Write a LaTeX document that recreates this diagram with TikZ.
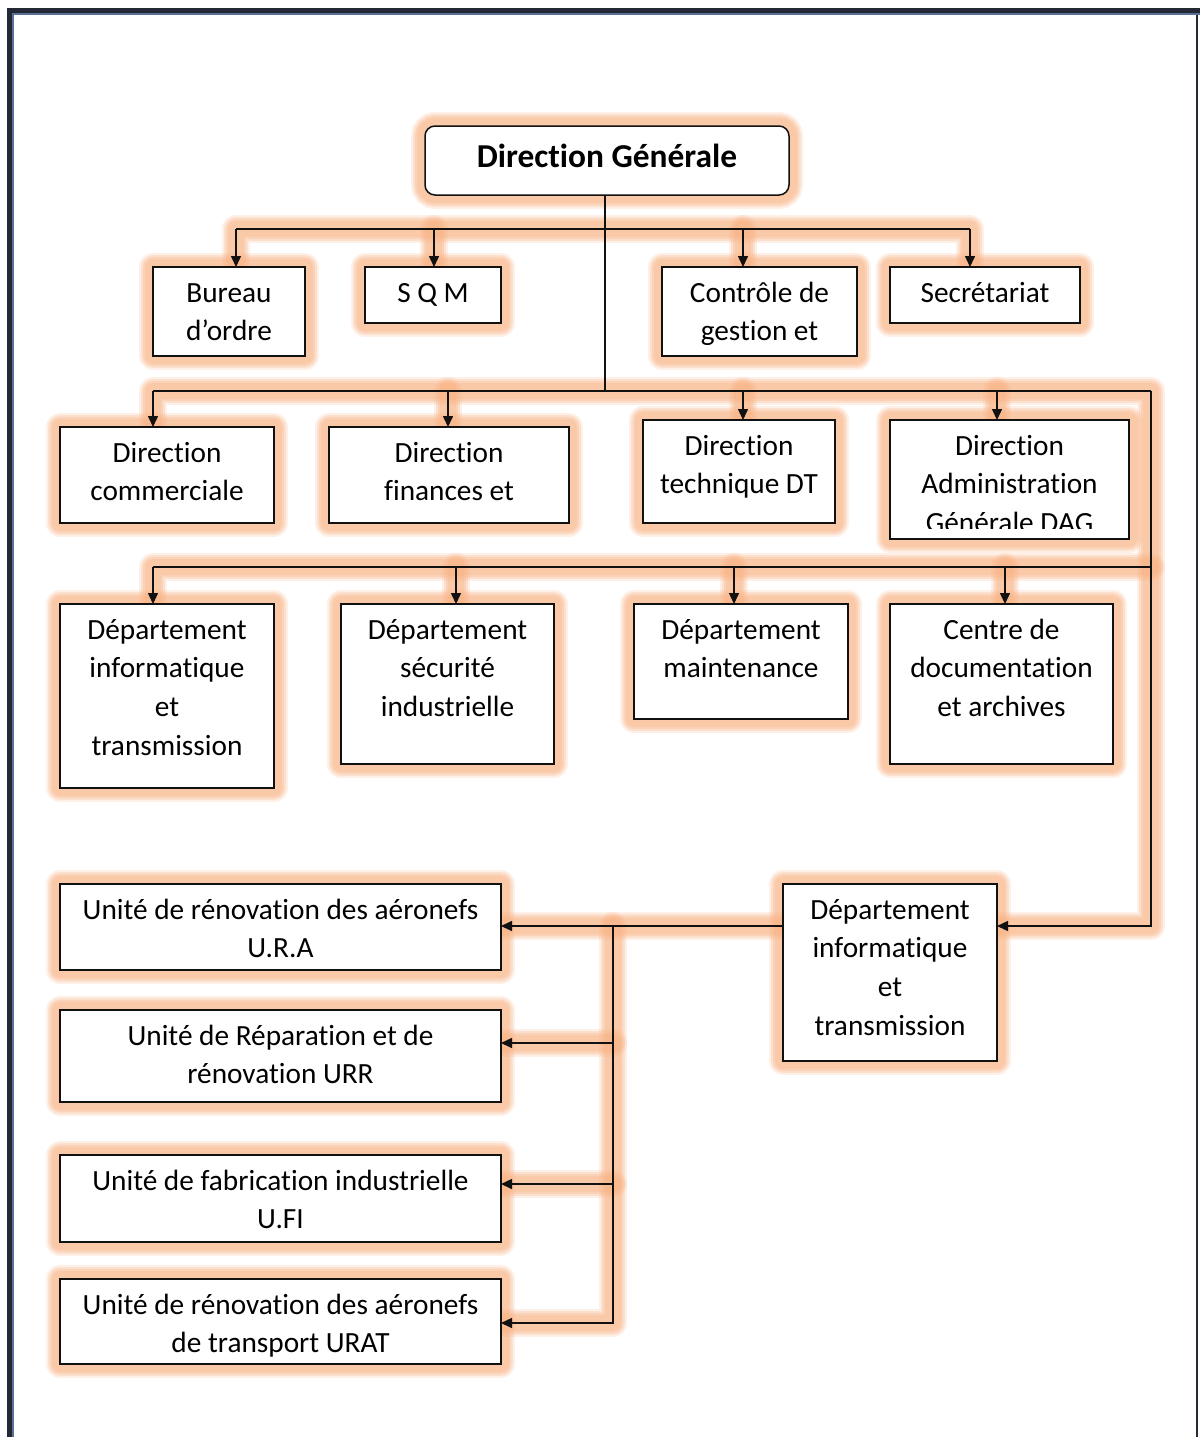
\documentclass[tikz,border=0pt]{standalone}
\usepackage{fontspec}
\setmainfont[Ligatures=CommonOff]{Carlito}
\usetikzlibrary{arrows.meta}

\definecolor{glowc}{RGB}{248,178,132}
\definecolor{framedark}{RGB}{35,42,54}
\definecolor{framelight}{RGB}{90,112,150}
\definecolor{ink}{RGB}{17,17,17}

\pgfdeclarelayer{glow}
\pgfsetlayers{glow,main}

% soft peach halo: stacked translucent strokes along a path
\newcommand\glowpath[1]{%
  \foreach \w/\o in {28/0.2,24/0.25,20/0.3,16/0.3}{%
    \draw[glowc,line width=\w pt,opacity=\o,line join=round,line cap=round] #1;}}

% centred lines of a label, baseline of the node = baseline of the first line
\newcommand\lines[1]{\begin{tabular}[t]{@{}c@{}}#1\end{tabular}}

\tikzset{
  orgbox/.style={draw=ink,line width=1.5pt,fill=white,rectangle,inner sep=0pt,outer sep=0pt},
  lbl/.style={anchor=base,inner sep=0pt},
  link/.style={draw=ink,line width=1.5pt},
  arr/.style={draw=ink,line width=1.5pt,-{Triangle[length=11pt,width=10pt]}},
}

\begin{document}
\begin{tikzpicture}[x=1pt,y=-1pt,every node/.style={font=\fontsize{29.3}{38.7}\selectfont}]
\useasboundingbox (0,0) rectangle (1200,1437);

% page frame
\fill[framedark] (7,8) rectangle (1200,13);
\fill[framedark] (7,8) rectangle (12,1437);
\fill[framelight] (12,13) rectangle (1200,15);
\fill[framelight] (12,13) rectangle (14,1437);
\draw[framedark,line width=1.5pt] (1197,15) -- (1197,1437);

% ---- boxes ----
\node[orgbox,rounded corners=10pt,minimum width=364pt,minimum height=69pt] (dg) at (607,160.5) {};
\node[orgbox,minimum width=152pt,minimum height=89pt] (bur) at (229,311.5) {};
\node[orgbox,minimum width=136pt,minimum height=56pt] (sqm) at (433,295) {};
\node[orgbox,minimum width=195pt,minimum height=89pt] (cdg) at (759.5,311.5) {};
\node[orgbox,minimum width=190pt,minimum height=56pt] (sec) at (985,295) {};

\node[orgbox,minimum width=214pt,minimum height=96pt] (dcom) at (167,475) {};
\node[orgbox,minimum width=240pt,minimum height=96pt] (dfin) at (449,475) {};
\node[orgbox,minimum width=192pt,minimum height=103pt] (dt) at (739,471.5) {};
\node[orgbox,minimum width=239pt,minimum height=119pt] (dag) at (1009.5,479.5) {};

\node[orgbox,minimum width=214pt,minimum height=184pt] (dinf) at (167,696) {};
\node[orgbox,minimum width=213pt,minimum height=160pt] (dsec) at (447.5,684) {};
\node[orgbox,minimum width=214pt,minimum height=115pt] (dmai) at (741,661.5) {};
\node[orgbox,minimum width=223pt,minimum height=160pt] (cda) at (1001.5,684) {};

\node[orgbox,minimum width=214pt,minimum height=177pt] (dinf2) at (890,972.5) {};
\node[orgbox,minimum width=441pt,minimum height=86pt] (ura) at (280.5,927) {};
\node[orgbox,minimum width=441pt,minimum height=92pt] (urr) at (280.5,1056) {};
\node[orgbox,minimum width=441pt,minimum height=87pt] (ufi) at (280.5,1198.5) {};
\node[orgbox,minimum width=441pt,minimum height=85pt] (urat) at (280.5,1321.5) {};

% ---- labels ----
\node[lbl,font=\fontsize{33.4}{39}\bfseries\selectfont] (dg-t) at (607,167) {Direction Générale};
\node[lbl] (bur-t) at ([yshift=-35pt]bur.north) {\lines{Bureau\\d’ordre}};
\node[lbl] (sqm-t) at ([yshift=-35pt]sqm.north) {\lines{S Q M}};
\node[lbl] (cdg-t) at ([yshift=-35pt]cdg.north) {\lines{Contrôle de\\gestion et}};
\node[lbl] (sec-t) at ([yshift=-35pt]sec.north) {\lines{Secrétariat}};
\node[lbl] (dcom-t) at ([yshift=-35pt]dcom.north) {\lines{Direction\\commerciale}};
\node[lbl] (dfin-t) at ([yshift=-35pt]dfin.north) {\lines{Direction\\finances et}};
\node[lbl] (dt-t) at ([yshift=-35pt]dt.north) {\lines{Direction\\technique DT}};
\begin{scope}
  \clip ([xshift=1pt,yshift=-1pt]dag.north west) rectangle (dag.east |- 0,528);
  \node[lbl] (dag-t) at ([yshift=-35pt]dag.north) {\lines{Direction\\Administration\\Générale DAG}};
\end{scope}
\node[lbl] (dinf-t) at ([yshift=-35pt]dinf.north) {\lines{Département\\informatique\\et\\transmission}};
\node[lbl] (dsec-t) at ([yshift=-35pt]dsec.north) {\lines{Département\\sécurité\\industrielle}};
\node[lbl] (dmai-t) at ([yshift=-35pt]dmai.north) {\lines{Département\\maintenance}};
\node[lbl] (cda-t) at ([yshift=-35pt]cda.north) {\lines{Centre de\\documentation\\et archives}};
\node[lbl] (dinf2-t) at ([yshift=-35pt]dinf2.north) {\lines{Département\\informatique\\et\\transmission}};
\node[lbl] (ura-t) at ([yshift=-35pt]ura.north) {\lines{Unité de rénovation des aéronefs\\U.R.A}};
\node[lbl] (urr-t) at ([yshift=-35pt]urr.north) {\lines{Unité de Réparation et de\\rénovation URR}};
\node[lbl] (ufi-t) at ([yshift=-35pt]ufi.north) {\lines{Unité de fabrication industrielle\\U.FI}};
\node[lbl] (urat-t) at ([yshift=-35pt]urat.north) {\lines{Unité de rénovation des aéronefs\\de transport URAT}};

% ---- junction points ----
\coordinate (t0) at (605,229);
\coordinate (t1) at (236,229);
\coordinate (t2) at (434,229);
\coordinate (t3) at (743,229);
\coordinate (t4) at (970,229);
\coordinate (m0) at (605,391);
\coordinate (m1) at (153,391);
\coordinate (m2) at (448,391);
\coordinate (m3) at (743,391);
\coordinate (m4) at (997,391);
\coordinate (mr) at (1151,391);
\coordinate (r1) at (1151,926);
\coordinate (n1) at (153,567);
\coordinate (n2) at (456,567);
\coordinate (n3) at (734,567);
\coordinate (n4) at (1005,567);
\coordinate (nr) at (1151,567);
\coordinate (b0) at (613,926);
\coordinate (b1) at (613,1043);
\coordinate (b2) at (613,1184);
\coordinate (b3) at (613,1323);

% ---- connectors ----
\draw[link] (dg.south -| t0) -- (m0);
\draw[link] (t1) -- (t4);
\draw[arr] (t1) -- (t1 |- bur.north);
\draw[arr] (t2) -- (t2 |- sqm.north);
\draw[arr] (t3) -- (t3 |- cdg.north);
\draw[arr] (t4) -- (t4 |- sec.north);

\draw[link] (m1) -- (mr);
\draw[arr] (mr) -- (r1) -- (r1 -| dinf2.east);
\draw[arr] (m1) -- (m1 |- dcom.north);
\draw[arr] (m2) -- (m2 |- dfin.north);
\draw[arr] (m3) -- (m3 |- dt.north);
\draw[arr] (m4) -- (m4 |- dag.north);

\draw[link] (n1) -- (nr);
\draw[arr] (n1) -- (n1 |- dinf.north);
\draw[arr] (n2) -- (n2 |- dsec.north);
\draw[arr] (n3) -- (n3 |- dmai.north);
\draw[arr] (n4) -- (n4 |- cda.north);

\draw[arr] (dinf2.west |- b0) -- (b0 -| ura.east);
\draw[arr] (b0) -- (b3) -- (b3 -| urat.east);
\draw[arr] (b1) -- (b1 -| urr.east);
\draw[arr] (b2) -- (b2 -| ufi.east);

% ---- halos ----
\begin{pgfonlayer}{glow}
  \foreach \w/\o in {28/0.2,24/0.25,20/0.3,16/0.3}{%
    \draw[glowc,line width=\w pt,opacity=\o,rounded corners=10pt] (dg.south west) rectangle (dg.north east);}
  \foreach \n in {bur,sqm,cdg,sec,dcom,dfin,dt,dag,dinf,dsec,dmai,cda,dinf2,ura,urr,ufi,urat}{%
    \glowpath{(\n.south west) rectangle (\n.north east)}}
  \glowpath{(t1 |- bur.north) -- (t1) -- (t4) -- (t4 |- sec.north)}
  \glowpath{(t2) -- (t2 |- sqm.north)}
  \glowpath{(t3) -- (t3 |- cdg.north)}
  \glowpath{(m1 |- dcom.north) -- (m1) -- (mr) -- (r1) -- (r1 -| dinf2.east)}
  \glowpath{(m2) -- (m2 |- dfin.north)}
  \glowpath{(m3) -- (m3 |- dt.north)}
  \glowpath{(m4) -- (m4 |- dag.north)}
  \glowpath{(n1 |- dinf.north) -- (n1) -- (nr)}
  \glowpath{(n2) -- (n2 |- dsec.north)}
  \glowpath{(n3) -- (n3 |- dmai.north)}
  \glowpath{(n4) -- (n4 |- cda.north)}
  \glowpath{(dinf2.west |- b0) -- (b0 -| ura.east)}
  \glowpath{(b0) -- (b3) -- (b3 -| urat.east)}
  \glowpath{(b1) -- (b1 -| urr.east)}
  \glowpath{(b2) -- (b2 -| ufi.east)}
\end{pgfonlayer}
\end{tikzpicture}
\end{document}
